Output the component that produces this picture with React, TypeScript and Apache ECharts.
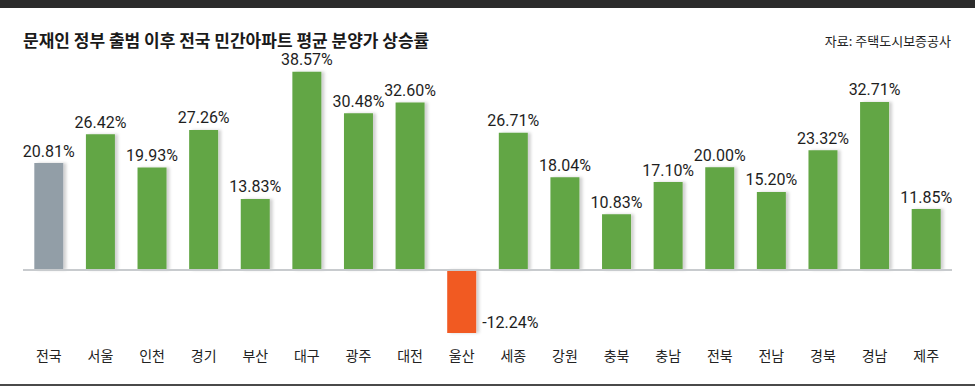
import React, { useEffect, useRef } from "react";
import * as echarts from "echarts";

const title = "문재인 정부 출범 이후 전국 민간아파트 평균 분양가 상승률";
const source = "자료: 주택도시보증공사";
const categories = ["전국", "서울", "인천", "경기", "부산", "대구", "광주", "대전", "울산", "세종", "강원", "충북", "충남", "전북", "전남", "경북", "경남", "제주"];
const values = [20.81, 26.42, 19.93, 27.26, 13.83, 38.57, 30.48, 32.6, -12.24, 26.71, 18.04, 10.83, 17.1, 20.0, 15.2, 23.32, 32.71, 11.85];

const GRAY = "#929ea7";
const GREEN = "#62a645";
const ORANGE = "#f15a24";
const FONT = "'Noto Sans CJK KR', 'Noto Sans', sans-serif";

export default function App() {
  const ref = useRef<HTMLDivElement>(null);
  useEffect(() => {
    const chart = echarts.init(ref.current!, null, { renderer: "svg" });
    chart.setOption({
      animation: false,
      backgroundColor: "#ffffff",
      graphic: [
        { type: "rect", left: 0, top: 0, shape: { width: 975, height: 8 }, style: { fill: "#2b2b2b" } },
        { type: "rect", left: 0, top: 384, shape: { width: 975, height: 2 }, style: { fill: "#4a4a4a" } },
        {
          type: "text",
          left: 23,
          top: 31,
          style: { text: title, font: `bold 17px ${FONT}`, fill: "#1a1a1a" },
        },
        {
          type: "text",
          right: 24,
          top: 34,
          style: { text: source, font: `13px ${FONT}`, fill: "#222" },
        },
      ],
      grid: { left: 23, right: 23, top: 64.4, bottom: 386 - 342 },
      xAxis: {
        type: "category",
        data: categories,
        axisLine: { show: false, onZero: false },
        axisTick: { show: false },
        axisLabel: { color: "#222", fontSize: 14, fontFamily: FONT, margin: 6 },
      },
      yAxis: {
        type: "value",
        min: -14,
        max: 40,
        show: false,
        splitLine: { show: false },
      },
      series: [
        {
          type: "bar",
          barWidth: 29,
          data: values.map((v, i) => ({
            value: v,
            itemStyle: { color: i === 0 ? GRAY : v < 0 ? ORANGE : GREEN },
            label:
              v < 0
                ? { position: "right", offset: [2, 21] }
                : { position: "top" },
          })),
          itemStyle: {
            shadowColor: "rgba(0,0,0,0.18)",
            shadowBlur: 3,
            shadowOffsetX: 3,
          },
          label: {
            show: true,
            color: "#1e1e1e",
            fontSize: 16,
            fontFamily: "Roboto, 'Noto Sans', sans-serif",
            distance: 4,
            formatter: (p: any) => `${Number(p.value).toFixed(2)}%`,
          },
          markLine: {
            silent: true,
            symbol: "none",
            label: { show: false },
            lineStyle: { color: "#c8cbce", width: 2, type: "solid" },
            data: [{ yAxis: 0 }],
          },
        },
      ],
    });
    return () => chart.dispose();
  }, []);
  return (
    <div
      ref={ref}
      style={{ position: "fixed", left: 0, top: 0, width: 975, height: 386 }}
    />
  );
}
